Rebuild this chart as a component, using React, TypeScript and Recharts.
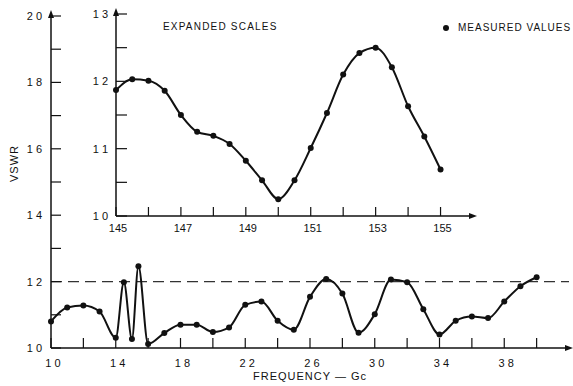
import React from 'react';
import { ComposedChart, LineChart, Line, XAxis, YAxis, ReferenceLine, ReferenceDot } from 'recharts';

// Main chart: frequency (Gc) vs VSWR
const mainFreq = [10, 11, 12, 13, 14, 14.5, 15, 15.4, 16, 17, 18, 19, 20, 21, 22, 23, 24, 25, 26, 27, 28, 29, 30, 31, 32, 33, 34, 35, 36, 37, 38, 39, 40];
const mainVswr = [1.08, 1.122, 1.128, 1.11, 1.031, 1.198, 1.027, 1.246, 1.012, 1.045, 1.07, 1.07, 1.048, 1.062, 1.13, 1.14, 1.082, 1.055, 1.154, 1.208, 1.164, 1.046, 1.102, 1.206, 1.198, 1.117, 1.041, 1.082, 1.095, 1.09, 1.14, 1.186, 1.213];

const mainXTicks = [10, 12, 14, 16, 18, 20, 22, 24, 26, 28, 30, 32, 34, 36, 38, 40];
const mainXLabelValues = [10, 14, 18, 22, 26, 30, 34, 38];
const mainXLabelText = ['1 0', '1 4', '1 8', '2 2', '2 6', '3 0', '3 4', '3 8'];
const mainYTicks = [1.0, 1.1, 1.2, 1.3, 1.4, 1.5, 1.6, 1.7, 1.8, 1.9, 2.0];
const mainYLabelValues = [1.0, 1.2, 1.4, 1.6, 1.8, 2.0];
const mainYLabelText = ['1 0', '1 2', '1 4', '1 6', '1 8', '2 0'];

// Inset: expanded scales
const insetFreq = [145, 145.5, 146, 146.5, 147, 147.5, 148, 148.5, 149, 149.5, 150, 150.5, 151, 151.5, 152, 152.5, 153, 153.5, 154, 154.5, 155];
const insetVswr = [11.87, 12.03, 12.01, 11.86, 11.5, 11.25, 11.19, 11.07, 10.82, 10.53, 10.25, 10.53, 11.01, 11.53, 12.1, 12.42, 12.5, 12.21, 11.63, 11.18, 10.69];

const insetXTicks = [145, 146, 147, 148, 149, 150, 151, 152, 153, 154, 155];
const insetXLabelValues = [145, 147, 149, 151, 153, 155];
const insetXLabelText = ['145', '147', '149', '151', '153', '155'];
const insetYTicks = [10, 10.5, 11, 11.5, 12, 12.5, 13];
const insetYLabelValues = [10, 11, 12, 13];
const insetYLabelText = ['1 0', '1 1', '1 2', '1 3'];

const mainData = mainFreq.map((f, i) => ({ f, v: mainVswr[i] }));
const insetData = insetFreq.map((f, i) => ({ f, v: insetVswr[i] }));

const FONT = '"Liberation Sans", Arial, sans-serif';
const INK = '#111';

const findIdx = (arr: number[], v: number) => arr.findIndex((a) => Math.abs(a - v) < 1e-6);

const makeXTick = (values: number[], texts: string[], len: number, dy: number) => (props: any) => {
  const { x, y, payload } = props;
  const idx = findIdx(values, payload.value);
  return (
    <g>
      <line x1={x} x2={x} y1={y} y2={y - len} stroke={INK} strokeWidth={1.2} />
      {idx >= 0 && (
        <text x={x + 2} y={y + dy} textAnchor="middle" fontSize={11} fontFamily={FONT} fill={INK}>
          {texts[idx]}
        </text>
      )}
    </g>
  );
};

const makeYTick = (values: number[], texts: string[], len: number, dx: number) => (props: any) => {
  const { x, y, payload } = props;
  const idx = findIdx(values, payload.value);
  return (
    <g>
      <line x1={x} x2={x + len} y1={y} y2={y} stroke={INK} strokeWidth={1.2} />
      {idx >= 0 && (
        <text x={x - dx} y={y + 4} textAnchor="end" fontSize={11} fontFamily={FONT} fill={INK}>
          {texts[idx]}
        </text>
      )}
    </g>
  );
};

const upArrow = (p: any) => (
  <polygon points={`${p.cx - 3},${p.cy + 2} ${p.cx},${p.cy - 6} ${p.cx + 3},${p.cy + 2}`} fill={INK} />
);
const rightArrow = (p: any) => (
  <polygon points={`${p.cx - 4},${p.cy - 3} ${p.cx + 4},${p.cy} ${p.cx - 4},${p.cy + 3}`} fill={INK} />
);

export default function App() {
  return (
    <div style={{ position: 'absolute', left: 0, top: 0, width: 573, height: 386, background: '#fff', fontFamily: FONT }}>
      <div style={{ position: 'absolute', left: 0, top: 0 }}>
        <ComposedChart width={573} height={386} data={mainData} margin={{ top: 16, right: 4, left: 0, bottom: 0 }}>
          <XAxis
            dataKey="f"
            type="number"
            domain={[10, 42]}
            ticks={mainXTicks}
            interval={0}
            tickSize={0}
            tickMargin={0}
            height={38}
            axisLine={{ stroke: INK, strokeWidth: 1.5 }}
            tick={makeXTick(mainXLabelValues, mainXLabelText, 10, 19)}
            label={{ value: 'FREQUENCY — Gc', position: 'insideBottom', offset: 6, fontSize: 11, fill: INK, fontFamily: FONT, letterSpacing: 1 }}
          />
          <YAxis
            type="number"
            domain={[1.0, 2.0]}
            ticks={mainYTicks}
            interval={0}
            tickSize={0}
            tickMargin={0}
            width={51}
            axisLine={{ stroke: INK, strokeWidth: 1.5 }}
            tick={makeYTick(mainYLabelValues, mainYLabelText, 10, 9)}
            label={{ value: 'VSWR', angle: -90, position: 'insideLeft', offset: 14, fontSize: 11, fill: INK, fontFamily: FONT, letterSpacing: 1 }}
          />
          <ReferenceLine y={1.2} stroke="#333" strokeWidth={1.2} strokeDasharray="11 6" />
          <Line
            dataKey="v"
            type="monotone"
            stroke={INK}
            strokeWidth={2}
            dot={{ r: 3, fill: INK, stroke: 'none' }}
            isAnimationActive={false}
          />
          <ReferenceDot x={10} y={2.0} r={0} ifOverflow="visible" shape={upArrow} />
          <ReferenceDot x={42} y={1.0} r={0} ifOverflow="visible" shape={rightArrow} />
        </ComposedChart>
      </div>
      <div style={{ position: 'absolute', left: 0, top: 0 }}>
        <LineChart width={480} height={240} data={insetData} margin={{ top: 14, right: 7, left: 0, bottom: 0 }}>
          <XAxis
            dataKey="f"
            type="number"
            domain={[145, 156]}
            ticks={insetXTicks}
            interval={0}
            tickSize={0}
            tickMargin={0}
            height={24}
            axisLine={{ stroke: INK, strokeWidth: 1.5 }}
            tick={makeXTick(insetXLabelValues, insetXLabelText, 9, 16)}
          />
          <YAxis
            type="number"
            domain={[10, 13]}
            ticks={insetYTicks}
            interval={0}
            tickSize={0}
            tickMargin={0}
            width={116}
            axisLine={{ stroke: INK, strokeWidth: 1.5 }}
            tick={makeYTick(insetYLabelValues, insetYLabelText, 11, 8)}
          />
          <Line
            dataKey="v"
            type="monotone"
            stroke={INK}
            strokeWidth={2}
            dot={{ r: 3, fill: INK, stroke: 'none' }}
            isAnimationActive={false}
          />
          <ReferenceDot x={145} y={13} r={0} ifOverflow="visible" shape={upArrow} />
          <ReferenceDot x={156} y={10} r={0} ifOverflow="visible" shape={rightArrow} />
        </LineChart>
      </div>
      <div style={{ position: 'absolute', left: 163, top: 21, fontSize: 10, letterSpacing: 1.2, color: INK, whiteSpace: 'nowrap' }}>
        EXPANDED SCALES
      </div>
      <div style={{ position: 'absolute', left: 443, top: 22, fontSize: 10, letterSpacing: 1, color: INK, whiteSpace: 'nowrap', display: 'flex', alignItems: 'center' }}>
        <span style={{ display: 'inline-block', width: 6, height: 6, borderRadius: 3, background: INK, marginRight: 9 }} />
        MEASURED VALUES
      </div>
    </div>
  );
}
